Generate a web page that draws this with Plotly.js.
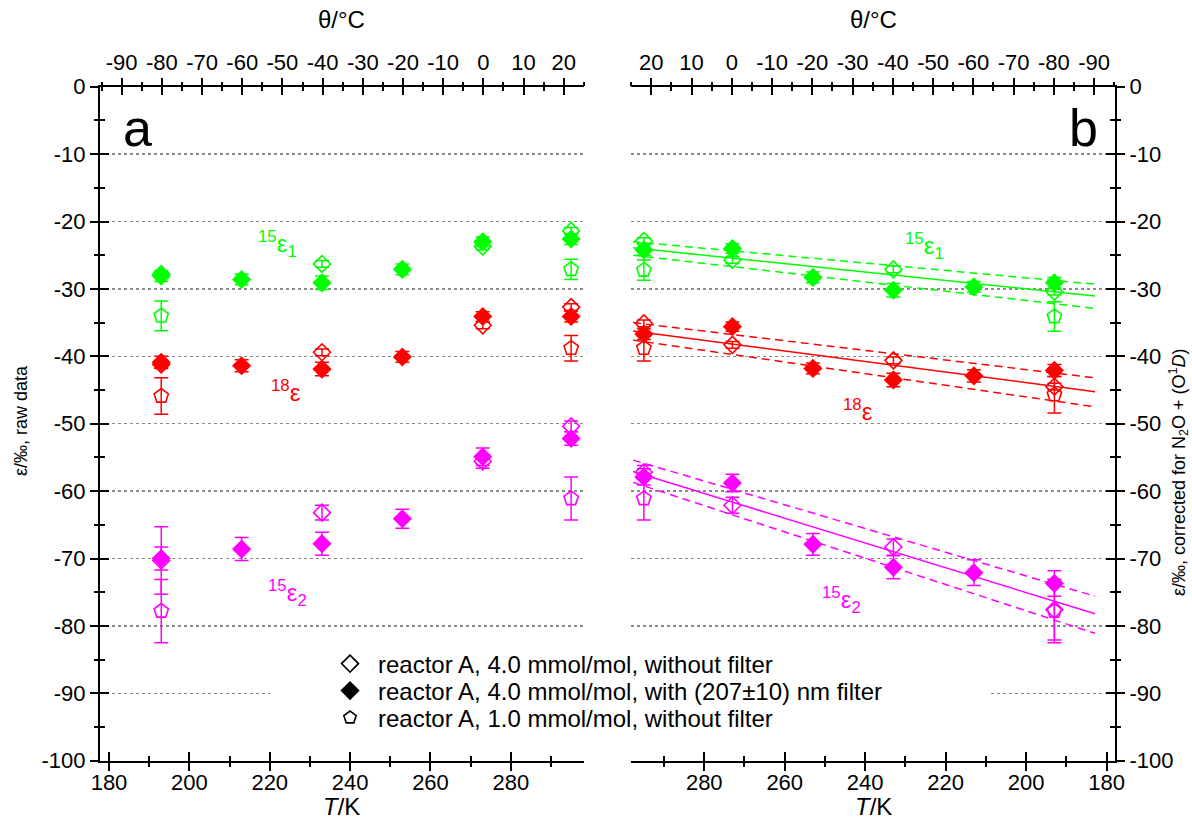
<!DOCTYPE html>
<html>
<head>
<meta charset="utf-8">
<script src="https://cdn.plot.ly/plotly-3.0.1.min.js"></script>
<style>html,body{margin:0;padding:0;background:#fff;}#chart{width:1192px;height:827px;}</style>
</head>
<body>
<div id="chart"></div>
<script>
// ---------------- data ----------------
const T_all  = [193, 213, 233, 253, 273, 295];   // K, with (207±10) nm filter
const T_open = [193, 233, 273, 295];             // K, 4.0 mmol/mol without filter
const T_pent = [193, 295];                       // K, 1.0 mmol/mol without filter

// panel a: raw data
const raw_e15_1_filt = [-28.1, -28.6, -29.1, -27.1, -23.0, -22.6];
const raw_e15_1_filt_err = [0.8, 0.8, 1.0, 0.8, 0.7, 0.8];
const raw_e15_1_open = [-27.8, -26.3, -23.7, -21.4];
const raw_e15_1_open_err = [0.5, 0.5, 0.5, 0.5];
const raw_e15_1_pent = [-34.0, -27.1];
const raw_e15_1_pent_err = [2.2, 1.5];

const raw_e18_filt = [-40.9, -41.4, -41.9, -40.1, -34.1, -34.1];
const raw_e18_filt_err = [0.9, 0.9, 1.0, 0.8, 0.7, 0.8];
const raw_e18_open = [-41.2, -39.4, -35.4, -32.7];
const raw_e18_open_err = [0.5, 0.5, 0.5, 0.5];
const raw_e18_pent = [-45.9, -38.8];
const raw_e18_pent_err = [2.7, 1.9];

const raw_e15_2_filt = [-70.0, -68.6, -67.8, -64.1, -54.9, -52.2];
const raw_e15_2_filt_err = [1.7, 1.7, 1.7, 1.4, 1.3, 1.0];
const raw_e15_2_open = [-70.3, -63.2, -55.6, -50.4];
const raw_e15_2_open_err = [5.0, 1.1, 1.0, 0.8];
const raw_e15_2_pent = [-77.8, -61.1];
const raw_e15_2_pent_err = [4.7, 3.2];

// panel b: corrected for N2O + O(1D)
const cor_e15_1_filt = [-29.1, -29.7, -30.2, -28.3, -24.0, -24.2];
const cor_e15_1_filt_err = [0.8, 0.8, 1.0, 0.8, 0.7, 0.8];
const cor_e15_1_open = [-30.4, -27.1, -25.7, -22.9];
const cor_e15_1_open_err = [0.5, 0.5, 0.5, 0.5];
const cor_e15_1_pent = [-34.1, -27.2];
const cor_e15_1_pent_err = [2.2, 1.5];

const cor_e18_filt = [-42.1, -42.9, -43.5, -41.8, -35.6, -36.7];
const cor_e18_filt_err = [0.9, 0.9, 1.0, 0.8, 0.7, 0.8];
const cor_e18_open = [-44.5, -40.6, -38.3, -35.1];
const cor_e18_open_err = [0.5, 0.5, 0.5, 0.5];
const cor_e18_pent = [-45.7, -38.8];
const cor_e18_pent_err = [2.7, 1.9];

const cor_e15_2_filt = [-73.7, -72.1, -71.3, -67.9, -58.8, -57.9];
const cor_e15_2_filt_err = [1.9, 1.9, 1.7, 1.6, 1.3, 1.2];
const cor_e15_2_open = [-77.6, -68.3, -62.1, -57.2];
const cor_e15_2_open_err = [4.5, 1.2, 1.2, 1.0];
const cor_e15_2_pent = [-77.8, -61.1];
const cor_e15_2_pent_err = [4.7, 3.2];

// linear fits with confidence bands (panel b), endpoints
const fit_T = [297.7, 182.9];
const fit_e15_1 = [-23.9, -31.05], fit_e15_1_hi = [-23.0, -29.3], fit_e15_1_lo = [-25.0, -32.9];
const fit_e18   = [-36.25, -45.25], fit_e18_hi = [-35.0, -43.2], fit_e18_lo = [-37.6, -47.5];
const fit_e15_2 = [-57.1, -78.2], fit_e15_2_hi = [-55.4, -75.6], fit_e15_2_lo = [-58.7, -81.1];

// tick labels
const y_tickvals = [0, -10, -20, -30, -40, -50, -60, -70, -80, -90, -100];
const y_ticktext = ['0', '-10', '-20', '-30', '-40', '-50', '-60', '-70', '-80', '-90', '-100'];
const c_tickvals = [-90, -80, -70, -60, -50, -40, -30, -20, -10, 0, 10, 20];
const c_ticktext = ['-90', '-80', '-70', '-60', '-50', '-40', '-30', '-20', '-10', '0', '10', '20'];
const k_tickvals = [180, 200, 220, 240, 260, 280];
const k_ticktext = ['180', '200', '220', '240', '260', '280'];

const legend_labels = [
  'reactor A, 4.0 mmol/mol, without filter',
  'reactor A, 4.0 mmol/mol, with (207±10) nm filter',
  'reactor A, 1.0 mmol/mol, without filter'
];

// ---------------- styling ----------------
const GREEN = '#00ff00', RED = '#ff0000', MAG = '#ff00ff';
const FONT = 'Liberation Sans, Arial, Helvetica, sans-serif';
const W = 1192, H = 827;
const fx = v => v / W, fy = v => 1 - v / H;
const K0 = 273.15;
const kL = [177.76, 298.2], kR = [298.2, 177.94];
const xDomL = [fx(100), fx(584)], xDomR = [fx(631), fx(1115)];
const yDom = [fy(760.7), fy(86.7)];

function pts(x, y, err, color, sym, size, xa, ya) {
  return {
    type: 'scatter', mode: 'markers', x: x, y: y, xaxis: xa, yaxis: ya, showlegend: false,
    marker: {symbol: sym, size: size, color: color, line: {color: color, width: 1.6}},
    error_y: {type: 'data', array: err, visible: true, color: color, thickness: 1.5, width: 7},
    hoverinfo: 'x+y'
  };
}
function line(y, color, dash) {
  return {type: 'scatter', mode: 'lines', x: fit_T, y: y, xaxis: 'x3', yaxis: 'y2', showlegend: false,
    line: {color: color, width: 1.5, dash: dash}, hoverinfo: 'skip'};
}

const traces = [];
[[fit_e15_1, fit_e15_1_hi, fit_e15_1_lo, GREEN],
 [fit_e18, fit_e18_hi, fit_e18_lo, RED],
 [fit_e15_2, fit_e15_2_hi, fit_e15_2_lo, MAG]].forEach(([m, hi, lo, c]) => {
  traces.push(line(m, c, 'solid'), line(hi, c, '8px,5px'), line(lo, c, '8px,5px'));
});

const panels = [
  ['x', 'y', [
    [raw_e15_1_pent, raw_e15_1_pent_err, raw_e15_1_open, raw_e15_1_open_err, raw_e15_1_filt, raw_e15_1_filt_err, GREEN],
    [raw_e18_pent, raw_e18_pent_err, raw_e18_open, raw_e18_open_err, raw_e18_filt, raw_e18_filt_err, RED],
    [raw_e15_2_pent, raw_e15_2_pent_err, raw_e15_2_open, raw_e15_2_open_err, raw_e15_2_filt, raw_e15_2_filt_err, MAG]]],
  ['x3', 'y2', [
    [cor_e15_1_pent, cor_e15_1_pent_err, cor_e15_1_open, cor_e15_1_open_err, cor_e15_1_filt, cor_e15_1_filt_err, GREEN],
    [cor_e18_pent, cor_e18_pent_err, cor_e18_open, cor_e18_open_err, cor_e18_filt, cor_e18_filt_err, RED],
    [cor_e15_2_pent, cor_e15_2_pent_err, cor_e15_2_open, cor_e15_2_open_err, cor_e15_2_filt, cor_e15_2_filt_err, MAG]]]
];
panels.forEach(([xa, ya, sets]) => {
  sets.forEach(([p, pe, o, oe, f, fe, c]) => {
    traces.push(pts(T_pent, p, pe, c, 'pentagon-open', 15, xa, ya));
    traces.push(pts(T_open, o, oe, c, 'diamond-open', 13, xa, ya));
    traces.push(pts(T_all, f, fe, c, 'diamond', 13, xa, ya));
  });
});
// legend entries (black symbols), one legend box per row
[['diamond-open', 'legend'], ['diamond', 'legend2'], ['pentagon-open', 'legend3']].forEach(([s, lg], i) => {
  traces.push({type: 'scatter', mode: 'markers', x: [null], y: [null], xaxis: 'x', yaxis: 'y',
    name: legend_labels[i], showlegend: true, legend: lg,
    marker: {symbol: s, size: 13, color: 'black', line: {color: 'black', width: 1.6}}});
});
// empty placeholder traces so that the secondary (top / crossing-tick) axes are drawn
[['x2', 'y'], ['x5', 'y'], ['x6', 'y'], ['x', 'y3'],
 ['x4', 'y2'], ['x7', 'y2'], ['x8', 'y2'], ['x3', 'y4']].forEach(([xa, ya]) => {
  traces.push({type: 'scatter', mode: 'markers', x: [null], y: [null], xaxis: xa, yaxis: ya,
    showlegend: false, hoverinfo: 'skip', marker: {opacity: 0}});
});

// ---------------- axes ----------------
const tickFont = {family: FONT, size: 22, color: 'black'};
function xAxis(domain, range, side, anchor, overlay, kind, outer) {
  const isC = kind === 'C';
  const a = {
    visible: true, range: range, anchor: anchor, side: side, showgrid: false, zeroline: false,
    tickmode: 'array', tickvals: isC ? c_tickvals : k_tickvals, ticktext: isC ? c_ticktext : k_ticktext,
    ticks: outer ? 'outside' : 'inside', ticklen: isC ? 8 : 9, tickwidth: 2, tickcolor: 'black',
    minor: {tickmode: 'linear', tick0: 0, dtick: isC ? 5 : 10, ticklen: isC ? 4 : 5, tickwidth: 2,
      tickcolor: 'black', ticks: outer ? 'outside' : 'inside', showgrid: false},
    showline: !outer, linewidth: 2, linecolor: 'black',
    showticklabels: !outer, tickfont: tickFont, ticklabelstandoff: isC ? 6 : 1,
    fixedrange: true
  };
  if (overlay) a.overlaying = overlay;
  if (domain) a.domain = domain;
  return a;
}
function yAxis(anchor, side, overlay, outer) {
  const a = {
    visible: true, domain: yDom, range: [-100, 0], anchor: anchor, side: side, zeroline: false,
    tickmode: 'array', tickvals: y_tickvals, ticktext: y_ticktext,
    ticks: outer ? 'outside' : 'inside', ticklen: 9, tickwidth: 2, tickcolor: 'black',
    minor: {tickmode: 'linear', tick0: 0, dtick: 5, ticklen: 5, tickwidth: 2, tickcolor: 'black',
      ticks: outer ? 'outside' : 'inside', showgrid: false},
    showline: !outer, linewidth: 2, linecolor: 'black',
    showgrid: !outer, gridcolor: '#8a8a8a', gridwidth: 1.5, griddash: 'dot',
    showticklabels: !outer, tickfont: tickFont, ticklabelstandoff: 8,
    fixedrange: true
  };
  if (overlay) a.overlaying = overlay;
  return a;
}
const cL = kL.map(v => v - K0), cR = kR.map(v => v - K0);

const annFont = (size, color) => ({family: FONT, size: size, color: color});
function ann(text, x, y, size, color, extra) {
  return Object.assign({text: text, xref: 'paper', yref: 'paper', x: fx(x), y: fy(y),
    xanchor: 'center', yanchor: 'middle', showarrow: false, font: annFont(size, color)}, extra || {});
}
function legendBox(yc) {
  return {x: fx(322), y: fy(yc), xanchor: 'left', yanchor: 'middle', bgcolor: 'rgba(0,0,0,0)',
    borderwidth: 0, font: {family: FONT, size: 24, color: 'black'}, itemwidth: 46, tracegroupgap: 0};
}

const layout = {
  width: W, height: H, margin: {l: 0, r: 0, t: 0, b: 0},
  paper_bgcolor: 'white', plot_bgcolor: 'rgba(0,0,0,0)',
  font: {family: FONT, size: 22, color: 'black'},
  showlegend: true,
  legend: legendBox(664), legend2: legendBox(691), legend3: legendBox(718),
  xaxis:  xAxis(xDomL, kL, 'bottom', 'y', null, 'K', false),
  xaxis5: xAxis(null, kL, 'bottom', 'y', 'x', 'K', true),
  xaxis2: xAxis(null, cL, 'top', 'y', 'x', 'C', false),
  xaxis6: xAxis(null, cL, 'top', 'y', 'x', 'C', true),
  xaxis3: xAxis(xDomR, kR, 'bottom', 'y2', null, 'K', false),
  xaxis7: xAxis(null, kR, 'bottom', 'y2', 'x3', 'K', true),
  xaxis4: xAxis(null, cR, 'top', 'y2', 'x3', 'C', false),
  xaxis8: xAxis(null, cR, 'top', 'y2', 'x3', 'C', true),
  yaxis:  yAxis('x', 'left', null, false),
  yaxis3: yAxis('x', 'left', 'y', true),
  yaxis2: yAxis('x3', 'right', null, false),
  yaxis4: yAxis('x3', 'right', 'y2', true),
  shapes: [
    // white legend background interrupting the -90 grid line
    {type: 'rect', xref: 'paper', yref: 'paper', x0: fx(270), x1: fx(990), y0: fy(735), y1: fy(648),
     fillcolor: 'white', line: {width: 0}, layer: 'above'}
  ],
  annotations: [
    ann('θ/°C', 341.5, 20, 24, 'black'),
    ann('θ/°C', 873, 20, 24, 'black'),
    ann('<i>T</i>/K', 341.5, 806, 24, 'black'),
    ann('<i>T</i>/K', 873, 806, 24, 'black'),
    ann('ε/‰, raw data', 21, 421, 18, 'black', {textangle: -90}),
    ann('ε/‰, corrected for N<sub>2</sub>O + (O<sup>1</sup><i>D</i>)', 1178, 472, 18, 'black', {textangle: -90}),
    ann('a', 137, 128, 52, 'black'),
    ann('b', 1083, 128, 52, 'black'),
    ann('<sup>15</sup>ε<sub>1</sub>', 277, 244, 24, GREEN),
    ann('<sup>18</sup>ε', 286, 391, 24, RED),
    ann('<sup>15</sup>ε<sub>2</sub>', 287, 593, 24, MAG),
    ann('<sup>15</sup>ε<sub>1</sub>', 924, 246, 24, GREEN),
    ann('<sup>18</sup>ε', 858, 410, 24, RED),
    ann('<sup>15</sup>ε<sub>2</sub>', 841, 600, 24, MAG)
  ]
};

Plotly.newPlot('chart', traces, layout, {staticPlot: true, displayModeBar: false});
</script>
</body>
</html>
